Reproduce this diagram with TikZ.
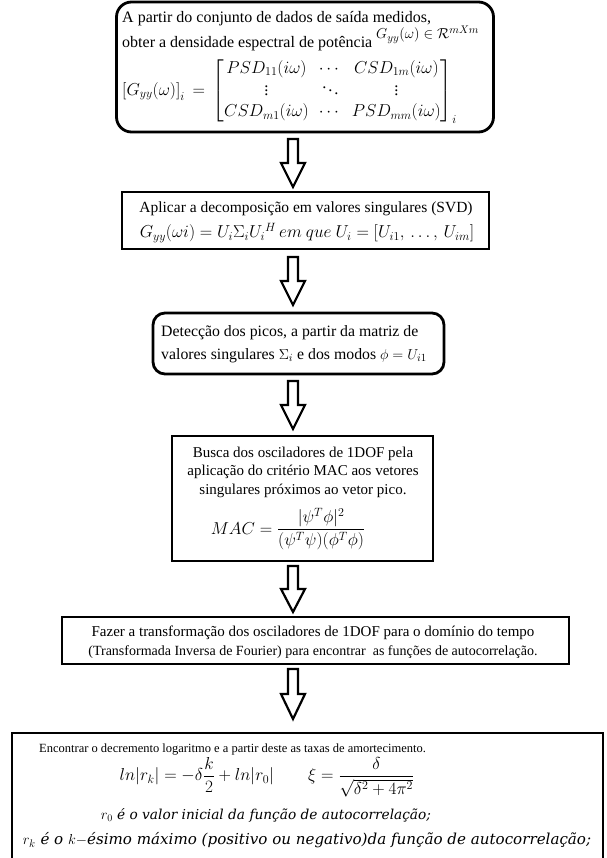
\documentclass[tikz,border=0pt]{standalone}
\usepackage{amsmath}
\usepackage{fontspec}
\setmainfont{Liberation Serif}
\newfontfamily\dvserif{DejaVu Serif}
\usetikzlibrary{calc}
\tikzset{
  box/.style={draw, line width=2.8pt, inner sep=0pt, fill=white},
  rbox/.style={box, rounded corners=15pt},
  sbox/.style={box, rounded corners=12pt},
  blockarrow/.style={draw, line width=2.2pt, fill=white, line join=miter},
  plain/.style={inner sep=0pt},
}
\newcommand\downarr[2]{%
  \draw[blockarrow] ($(#1)+(-5,0)$) -- ($(#1)+(-5,#2*0.5)$) -- ($(#1)+(-12,#2*0.5)$)
    -- ($(#1)+(0,#2)$) -- ($(#1)+(12,#2*0.5)$) -- ($(#1)+(5,#2*0.5)$) -- ($(#1)+(5,0)$) -- cycle;}
\begin{document}
\begin{tikzpicture}[x=1pt,y=-1pt]
\useasboundingbox (0,0) rectangle (606,858);
\fill[white] (0,0) rectangle (606,858);

% Box 1
\node[rbox, minimum width=377pt, minimum height=130pt] (b1) at (305,67) {};
\node[plain, anchor=base west, font=\fontsize{16}{18}\selectfont] (t1a) at (122,23) {A partir do conjunto de dados de saída medidos,};
\node[plain, anchor=base west, font=\fontsize{16}{18}\selectfont] (t1b) at (122,48) {obter a densidade espectral de potência};
\node[plain, anchor=base west, font=\fontsize{15.5}{18}\selectfont] (t1c) at (376,39) {$G_{yy}(\omega) \in \mathcal{R}^{mXm}$};
\node[plain, anchor=west, font=\fontsize{16.5}{19}\selectfont] (t1d) at (122,91) {$\left[G_{yy}(\omega)\right]_i \,=\, \renewcommand{\arraystretch}{1.12}\begin{bmatrix} PSD_{11}(i\omega) & \cdots & CSD_{1m}(i\omega)\\ \vdots & \ddots & \vdots\\ CSD_{m1}(i\omega) & \cdots & PSD_{mm}(i\omega)\end{bmatrix}_i$};

% Arrow 1
\coordinate (a1) at (293,139);
\downarr{a1}{48}

% Box 2
\node[box, minimum width=367pt, minimum height=57pt] (b2) at (305.5,220.5) {};
\node[plain, font=\fontsize{15.5}{18}\selectfont] (t2a) at (306,209) {Aplicar a decomposição em valores singulares (SVD)};
\node[plain, font=\fontsize{16.5}{18}\selectfont] (t2b) at (307,233)
  {$G_{yy}(\omega i) = U_i\Sigma_i U_i{}^{H}\, em\ que\ U_i = \left[U_{i1},\,\ldots,\,U_{im}\right]$};

% Arrow 2
\coordinate (a2) at (293,257);
\downarr{a2}{48}

% Box 3
\node[sbox, minimum width=291pt, minimum height=61pt] (b3) at (298.5,343.5) {};
\node[plain, anchor=west, align=left, font=\fontsize{15.8}{23}\selectfont] (t3) at (161,344)
  {Detecção dos picos, a partir da matriz de\\
   valores singulares $\Sigma_i$ e dos modos $\phi = U_{i1}$};

% Arrow 3
\coordinate (a3) at (293,381);
\downarr{a3}{48}

% Box 4
\node[box, minimum width=261pt, minimum height=125pt] (b4) at (302.5,498.5) {};
\node[plain, align=center, font=\fontsize{15}{18.5}\selectfont] (t4) at (303,472)
  {Busca dos osciladores de 1DOF pela\\
   aplicação do critério MAC aos vetores\\
   singulares próximos ao vetor pico.};
\node[plain, font=\fontsize{16.5}{19}\selectfont] (t4m) at (288,529)
  {$MAC = \dfrac{|\psi^T\phi|^2}{(\psi^T\psi)(\phi^T\phi)}$};

% Arrow 4
\coordinate (a4) at (293,566);
\downarr{a4}{46}

% Box 5
\node[box, minimum width=507pt, minimum height=47pt] (b5) at (315.5,640.5) {};
\node[plain, align=center, font=\fontsize{14}{19}\selectfont] (t5) at (313,642)
  {{\fontsize{15}{19}\selectfont Fazer a transformação dos osciladores de 1DOF para o domínio do tempo}\\
   (Transformada Inversa de Fourier) para encontrar \ as funções de autocorrelação.};

% Arrow 5
\coordinate (a5) at (293,669);
\downarr{a5}{50}

% Box 6 (bottom edge runs past the page)
\node[box, minimum width=591pt, minimum height=140pt] (b6) at (307.5,803) {};
\node[plain, anchor=base west, font=\fontsize{12.5}{15}\selectfont] (t6a) at (39,752)
  {Encontrar o decremento logaritmo e a partir deste as taxas de amortecimento.};
\node[plain, font=\fontsize{17}{20}\selectfont] (t6b) at (267,777)
  {$ln|r_k| = -\delta\dfrac{k}{2} + ln|r_0| \qquad \xi = \dfrac{\delta}{\sqrt{\delta^2+4\pi^2}}$};
\node[plain, font=\dvserif\itshape\fontsize{13.7}{16}\selectfont] (t6c) at (266,815)
  {$r_0$ é o valor inicial da função de autocorrelação;};
\node[plain, font=\dvserif\itshape\fontsize{15.1}{17}\selectfont] (t6d) at (307,840)
  {$r_k$ é o $k-$ésimo máximo (positivo ou negativo)da função de autocorrelação;};
\end{tikzpicture}
\end{document}
